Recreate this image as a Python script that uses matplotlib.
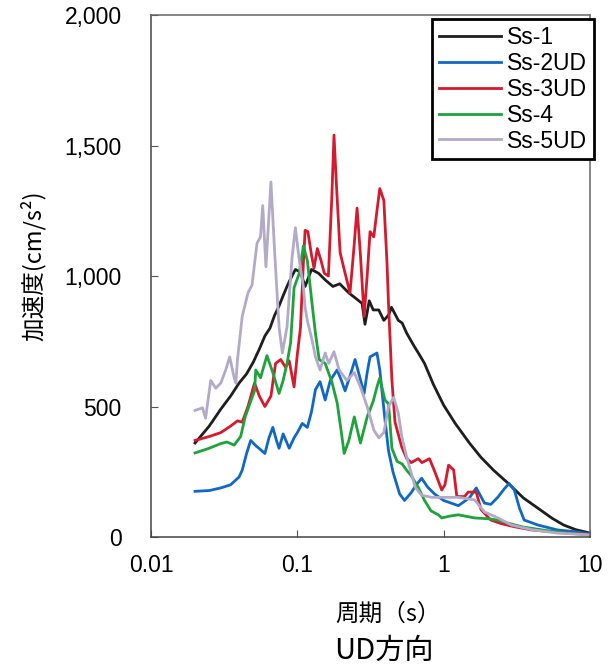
import matplotlib
matplotlib.use("Agg")
import matplotlib.pyplot as plt

plt.rcParams['font.family'] = ['Liberation Sans', 'Noto Sans CJK JP', 'DejaVu Sans']

# 周期(s) と 加速度(cm/s2) -- 図から読み取った値
t_ss1 = [0.02, 0.025, 0.03, 0.035, 0.04, 0.045, 0.05, 0.055, 0.06, 0.065, 0.07, 0.075, 0.08,
         0.085, 0.09, 0.097, 0.105, 0.113, 0.125, 0.14, 0.155, 0.175, 0.195, 0.225, 0.25,
         0.277, 0.29, 0.31, 0.33, 0.36, 0.39, 0.42, 0.44, 0.49, 0.52, 0.56, 0.63, 0.68,
         0.74, 0.85, 1.0, 1.2, 1.5, 1.8, 2.2, 2.77, 3.5, 4.6, 5.5, 6.6, 8.0, 10.0]
a_ss1 = [360, 425, 490, 540, 590, 625, 670, 720, 770, 800, 850, 885, 925,
         960, 990, 1025, 1015, 960, 1025, 1010, 985, 960, 970, 935, 915,
         895, 815, 905, 870, 870, 830, 850, 880, 830, 820, 780, 730, 700,
         665, 585, 505, 435, 360, 305, 255, 205, 150, 103, 72, 46, 28, 15]

t_ss2 = [0.02, 0.025, 0.03, 0.035, 0.04, 0.042, 0.045, 0.048, 0.052, 0.056, 0.06, 0.064,
         0.068, 0.072, 0.075, 0.08, 0.085, 0.088, 0.095, 0.1, 0.108, 0.117, 0.125, 0.133,
         0.143, 0.155, 0.168, 0.187, 0.2, 0.212, 0.23, 0.248, 0.265, 0.286, 0.3, 0.314,
         0.35, 0.366, 0.397, 0.42, 0.45, 0.5, 0.54, 0.6, 0.65, 0.707, 0.78, 0.866, 1.0,
         1.26, 1.5, 1.67, 1.9, 2.1, 2.35, 2.6, 2.8, 3.04, 3.3, 3.55, 4.4, 6.0, 8.0, 10.0]
a_ss2 = [175, 178, 188, 200, 230, 256, 320, 370, 350, 335, 320, 380,
         420, 370, 340, 395, 360, 340, 380, 400, 435, 420, 480, 565,
         595, 525, 600, 640, 600, 560, 620, 680, 620, 550, 630, 690,
         705, 640, 450, 330, 250, 165, 140, 170, 200, 225, 190, 165, 140,
         120, 150, 188, 130, 125, 153, 185, 205, 180, 110, 65, 46, 27, 20, 12]

t_ss3 = [0.02, 0.025, 0.03, 0.035, 0.039, 0.042, 0.046, 0.051, 0.055, 0.06, 0.066, 0.071,
         0.077, 0.083, 0.088, 0.095, 0.1, 0.105, 0.11, 0.113, 0.118, 0.125, 0.13, 0.137,
         0.145, 0.153, 0.163, 0.172, 0.178, 0.185, 0.196, 0.21, 0.229, 0.243, 0.256, 0.27,
         0.286, 0.3, 0.314, 0.333, 0.35, 0.366, 0.39, 0.41, 0.42, 0.443, 0.465, 0.517,
         0.56, 0.6, 0.67, 0.71, 0.8, 0.87, 0.97, 1.02, 1.08, 1.17, 1.23, 1.39, 1.47, 1.67,
         1.8, 2.1, 2.45, 3.0, 4.0, 6.0, 10.0]
a_ss3 = [370, 385, 400, 425, 445, 440, 500, 590, 540, 500, 540, 665,
         680, 650, 675, 575, 700, 800, 1050, 1175, 1170, 1080, 1030, 1105,
         1060, 1010, 1000, 1300, 1540, 1350, 1090, 1020, 935, 1100, 1260, 1080,
         845, 1000, 1170, 1150, 1250, 1335, 1290, 1050, 890, 600, 440, 345,
         300, 285, 300, 285, 300, 250, 180, 200, 275, 257, 155, 155, 172, 172,
         105, 65, 52, 40, 27, 18, 10]

t_ss4 = [0.02, 0.025, 0.03, 0.033, 0.037, 0.041, 0.044, 0.048, 0.051, 0.052, 0.056, 0.062,
         0.068, 0.075, 0.08, 0.085, 0.09, 0.095, 0.103, 0.11, 0.117, 0.126, 0.133, 0.141,
         0.155, 0.172, 0.187, 0.2, 0.209, 0.225, 0.245, 0.27, 0.3, 0.33, 0.35, 0.366,
         0.397, 0.42, 0.443, 0.48, 0.52, 0.56, 0.6, 0.67, 0.74, 0.82, 0.92, 0.97, 1.1,
         1.26, 1.63, 2.0, 2.35, 2.8, 3.5, 5.0, 7.0, 10.0]
a_ss4 = [322, 340, 358, 364, 352, 385, 460, 520, 560, 640, 610, 695,
         630, 550, 600, 665, 745, 955, 1010, 1115, 1060, 895, 780, 680,
         665, 595, 515, 400, 320, 370, 460, 360, 460, 520, 575, 610,
         525, 510, 340, 290, 280, 255, 235, 190, 140, 100, 85, 73, 80,
         85, 73, 70, 65, 52, 38, 25, 15, 8]

t_ss5 = [0.02, 0.0225, 0.0236, 0.0256, 0.0277, 0.03, 0.0324, 0.0345, 0.037, 0.038, 0.039,
         0.042, 0.046, 0.049, 0.053, 0.056, 0.058, 0.061, 0.066, 0.07, 0.075, 0.079, 0.085,
         0.092, 0.097, 0.101, 0.105, 0.11, 0.113, 0.117, 0.126, 0.133, 0.143, 0.155, 0.164,
         0.178, 0.193, 0.218, 0.245, 0.27, 0.3, 0.333, 0.36, 0.39, 0.42, 0.455, 0.49, 0.517,
         0.56, 0.64, 0.707, 0.83, 1.26, 1.63, 1.9, 2.35, 2.9, 4.0, 6.0, 10.0]
a_ss5 = [485, 495, 455, 600, 570, 590, 640, 690, 610, 590, 680,
         845, 935, 965, 1125, 1150, 1270, 1035, 1360, 1090, 805, 705, 805,
         1070, 1185, 1100, 1030, 960, 880, 830, 755, 690, 640, 705, 665,
         710, 640, 600, 630, 575, 500, 410, 380, 400, 500, 535, 475, 385,
         305, 190, 160, 152, 152, 142, 96, 73, 46, 28, 15, 8]

series = [
    ("Ss-1", t_ss1, a_ss1, "#1e1e1e"),
    ("Ss-2UD", t_ss2, a_ss2, "#1068c4"),
    ("Ss-3UD", t_ss3, a_ss3, "#d41a2c"),
    ("Ss-4", t_ss4, a_ss4, "#1ea23c"),
    ("Ss-5UD", t_ss5, a_ss5, "#b2aac8"),
]

fig = plt.figure(figsize=(6.14, 6.66), dpi=100)
ax = fig.add_axes([151 / 614, 129 / 666, 439 / 614, 522 / 666])

for name, t, a, c in series:
    ax.plot(t, a, color=c, lw=2.0, label=name)

ax.set_xscale("log")
ax.set_xlim(0.01, 10)
ax.set_ylim(0, 2000)
ax.set_xticks([0.01, 0.1, 1, 10])
ax.set_xticklabels(["0.01", "0.1", "1", "10"])
ax.minorticks_off()
ax.set_yticks([0, 500, 1000, 1500, 2000])
ax.set_yticklabels(["0", "500", "1,000", "1,500", "2,000"])
ax.tick_params(axis="y", direction="in", length=5, labelsize=16.5, pad=21, color="#555555")
ax.tick_params(axis="x", direction="in", length=5, labelsize=16.5, pad=12, color="#555555")
for s in ax.spines.values():
    s.set_color("#666666")
    s.set_linewidth(1.1)
ax.spines["left"].set_color("#444444")
ax.spines["bottom"].set_color("#444444")

leg = ax.legend(loc="upper right", bbox_to_anchor=(1.009, 0.992), fontsize=16.5,
                frameon=True, fancybox=False, handlelength=2.7, handletextpad=0.3,
                labelspacing=0.13, borderpad=0.28, borderaxespad=0.0)
leg.get_frame().set_edgecolor("black")
leg.get_frame().set_linewidth(2.0)
leg.get_frame().set_alpha(1)

fig.text(33 / 614, 1 - 266 / 666, "加速度(cm/s²)", rotation=90, ha="center", va="center",
         fontsize=17, family=['Noto Sans CJK JP', 'DejaVu Sans'])
fig.text(388 / 614, 1 - 614 / 666, "周期（s）", ha="center", va="center",
         fontsize=17, family=['Noto Sans CJK JP', 'DejaVu Sans'])
fig.text(384 / 614, 1 - 651 / 666, "UD方向", ha="center", va="center",
         fontsize=21, family=['Noto Sans CJK JP', 'DejaVu Sans'])

fig.savefig("out.png", dpi=100)
